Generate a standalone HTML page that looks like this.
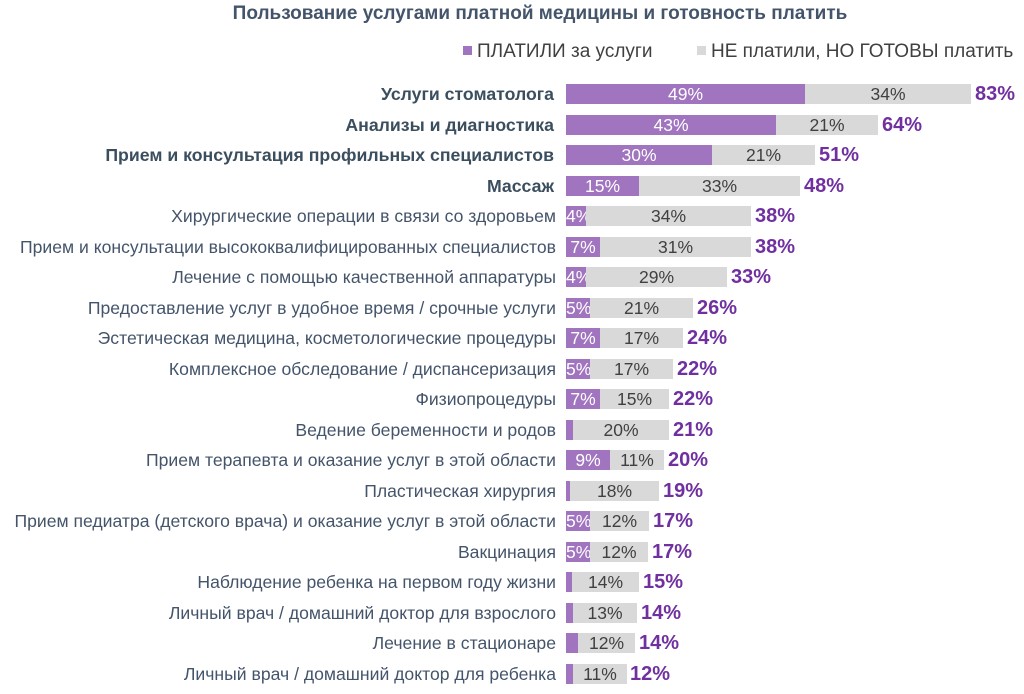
<!DOCTYPE html>
<html><head><meta charset="utf-8"><style>
body{margin:0;width:1024px;height:694px;background:#fff;position:relative;overflow:hidden;font-family:"Liberation Sans",sans-serif}
.t{position:absolute;top:3px;left:0;width:1080px;text-align:center;font-weight:bold;font-size:19px;color:#44546a}
.lg{position:absolute;top:41px;font-size:19px;color:#404040;white-space:nowrap}
.lg i{display:inline-block;width:9px;height:9px;margin-right:5px;vertical-align:2px}
.r{position:absolute;left:0;width:1024px;height:20px}
.l{position:absolute;right:468px;top:-1px;line-height:22px;font-size:17.6px;color:#44546a;white-space:nowrap}
.b .l{font-weight:bold;color:#3b4e5e;font-size:17.7px;right:470px}
.p,.g{position:absolute;top:0;height:20px;line-height:21px;text-align:center;font-size:17.5px;white-space:nowrap;overflow:visible}
.p{background:#a074be;color:#fff}
.g{background:#d9d9d9;color:#404040}
.s{position:absolute;top:-1px;line-height:22px;font-size:20px;font-weight:bold;color:#7030a0}
</style></head><body>
<div class="t">Пользование услугами платной медицины и готовность платить</div>
<div class="lg" style="left:463px"><i style="background:#a074be"></i>ПЛАТИЛИ за услуги</div>
<div class="lg" style="left:697px"><i style="background:#d9d9d9"></i>НЕ платили, НО ГОТОВЫ платить</div>

<div class="r b" style="top:84px"><span class="l">Услуги стоматолога</span><div class="p" style="left:566px;width:239px">49%</div><div class="g" style="left:805px;width:166px">34%</div><span class="s" style="left:975px">83%</span></div>
<div class="r b" style="top:114.5px"><span class="l">Анализы и диагностика</span><div class="p" style="left:566px;width:210px">43%</div><div class="g" style="left:776px;width:102px">21%</div><span class="s" style="left:882px">64%</span></div>
<div class="r b" style="top:145px"><span class="l">Прием и консультация профильных специалистов</span><div class="p" style="left:566px;width:146px">30%</div><div class="g" style="left:712px;width:103px">21%</div><span class="s" style="left:819px">51%</span></div>
<div class="r b" style="top:175.5px"><span class="l">Массаж</span><div class="p" style="left:566px;width:73px">15%</div><div class="g" style="left:639px;width:161px">33%</div><span class="s" style="left:804px">48%</span></div>
<div class="r" style="top:206px"><span class="l">Хирургические операции в связи со здоровьем</span><div class="p" style="left:566px;width:20px">4%</div><div class="g" style="left:586px;width:165px">34%</div><span class="s" style="left:755px">38%</span></div>
<div class="r" style="top:236.5px"><span class="l">Прием и консультации высококвалифицированных специалистов</span><div class="p" style="left:566px;width:34px">7%</div><div class="g" style="left:600px;width:151px">31%</div><span class="s" style="left:755px">38%</span></div>
<div class="r" style="top:267px"><span class="l">Лечение с помощью качественной аппаратуры</span><div class="p" style="left:566px;width:20px">4%</div><div class="g" style="left:586px;width:141px">29%</div><span class="s" style="left:731px">33%</span></div>
<div class="r" style="top:297.5px"><span class="l">Предоставление услуг в удобное время / срочные услуги</span><div class="p" style="left:566px;width:24px">5%</div><div class="g" style="left:590px;width:103px">21%</div><span class="s" style="left:697px">26%</span></div>
<div class="r" style="top:328px"><span class="l">Эстетическая медицина, косметологические процедуры</span><div class="p" style="left:566px;width:34px">7%</div><div class="g" style="left:600px;width:83px">17%</div><span class="s" style="left:687px">24%</span></div>
<div class="r" style="top:358.5px"><span class="l">Комплексное обследование / диспансеризация</span><div class="p" style="left:566px;width:24px">5%</div><div class="g" style="left:590px;width:83px">17%</div><span class="s" style="left:677px">22%</span></div>
<div class="r" style="top:389px"><span class="l">Физиопроцедуры</span><div class="p" style="left:566px;width:34px">7%</div><div class="g" style="left:600px;width:69px">15%</div><span class="s" style="left:673px">22%</span></div>
<div class="r" style="top:419.5px"><span class="l">Ведение беременности и родов</span><div class="p" style="left:566px;width:7px"></div><div class="g" style="left:573px;width:96px">20%</div><span class="s" style="left:673px">21%</span></div>
<div class="r" style="top:450px"><span class="l">Прием терапевта и оказание услуг в этой области</span><div class="p" style="left:566px;width:44px">9%</div><div class="g" style="left:610px;width:54px">11%</div><span class="s" style="left:668px">20%</span></div>
<div class="r" style="top:480.5px"><span class="l">Пластическая хирургия</span><div class="p" style="left:566px;width:4px"></div><div class="g" style="left:570px;width:89px">18%</div><span class="s" style="left:663px">19%</span></div>
<div class="r" style="top:511px"><span class="l">Прием педиатра (детского врача) и оказание услуг в этой области</span><div class="p" style="left:566px;width:24px">5%</div><div class="g" style="left:590px;width:59px">12%</div><span class="s" style="left:653px">17%</span></div>
<div class="r" style="top:541.5px"><span class="l">Вакцинация</span><div class="p" style="left:566px;width:24px">5%</div><div class="g" style="left:590px;width:58px">12%</div><span class="s" style="left:652px">17%</span></div>
<div class="r" style="top:572px"><span class="l">Наблюдение ребенка на первом году жизни</span><div class="p" style="left:566px;width:6px"></div><div class="g" style="left:572px;width:67px">14%</div><span class="s" style="left:643px">15%</span></div>
<div class="r" style="top:602.5px"><span class="l">Личный врач / домашний доктор для взрослого</span><div class="p" style="left:566px;width:7px"></div><div class="g" style="left:573px;width:64px">13%</div><span class="s" style="left:641px">14%</span></div>
<div class="r" style="top:633px"><span class="l">Лечение в стационаре</span><div class="p" style="left:566px;width:12px"></div><div class="g" style="left:578px;width:57px">12%</div><span class="s" style="left:639px">14%</span></div>
<div class="r" style="top:663.5px"><span class="l">Личный врач / домашний доктор для ребенка</span><div class="p" style="left:566px;width:7px"></div><div class="g" style="left:573px;width:54px">11%</div><span class="s" style="left:630px">12%</span></div>
</body></html>
